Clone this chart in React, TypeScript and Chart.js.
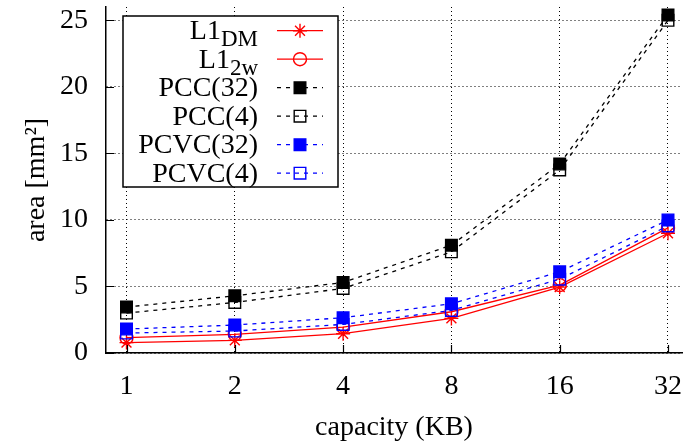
import React, { useEffect, useRef } from 'react';
import { Chart, registerables } from 'chart.js';
import { drawPoint } from 'chart.js/helpers';

Chart.register(...registerables);

const FONT = "'Liberation Serif', 'Times New Roman', serif";
const FS = 28;

const CAPACITY = [1, 2, 4, 8, 16, 32];
const Y_TICKS = [0, 5, 10, 15, 20, 25];

const L1_DM = [0.78, 0.95, 1.45, 2.6, 4.95, 9.0];
const L1_2W = [1.15, 1.4, 1.95, 3.1, 5.1, 9.4];
const PCC_32 = [3.45, 4.3, 5.3, 8.1, 14.2, 25.4];
const PCC_4 = [3.0, 3.8, 4.85, 7.6, 13.75, 25.0];
const PCVC_32 = [1.8, 2.1, 2.65, 3.7, 6.1, 10.0];
const PCVC_4 = [1.5, 1.65, 2.15, 3.2, 5.55, 9.55];

const SERIES = [
  { main: 'L1', sub: 'DM', data: L1_DM, color: '#ff0000', dash: [], point: 'star', radius: 7, fill: 'rgba(0,0,0,0)' },
  { main: 'L1', sub: '2w', data: L1_2W, color: '#ff0000', dash: [], point: 'circle', radius: 6.5, fill: 'rgba(0,0,0,0)' },
  { main: 'PCC(32)', sub: '', data: PCC_32, color: '#000000', dash: [4, 5], point: 'rect', radius: 8.2, fill: '#000000' },
  { main: 'PCC(4)', sub: '', data: PCC_4, color: '#000000', dash: [4, 5], point: 'rect', radius: 8.2, fill: 'rgba(0,0,0,0)' },
  { main: 'PCVC(32)', sub: '', data: PCVC_32, color: '#0000ff', dash: [4, 5], point: 'rect', radius: 8.2, fill: '#0000ff' },
  { main: 'PCVC(4)', sub: '', data: PCVC_4, color: '#0000ff', dash: [4, 5], point: 'rect', radius: 8.2, fill: 'rgba(0,0,0,0)' },
];

const innerTicksPlugin = {
  id: 'innerTicks',
  afterDatasetsDraw(chart: any) {
    const { ctx, chartArea } = chart;
    const xs = chart.scales.x;
    const ys = chart.scales.y;
    ctx.save();
    ctx.strokeStyle = '#000';
    ctx.lineWidth = 1.2;
    ctx.setLineDash([]);
    ctx.beginPath();
    Y_TICKS.forEach((v) => {
      const py = Math.round(ys.getPixelForValue(v)) + 0.5;
      ctx.moveTo(chartArea.left, py);
      ctx.lineTo(chartArea.left + 8, py);
    });
    CAPACITY.forEach((v) => {
      const px = Math.round(xs.getPixelForValue(v)) + 0.5;
      ctx.moveTo(px, chartArea.bottom);
      ctx.lineTo(px, chartArea.bottom - 8);
    });
    ctx.stroke();
    ctx.restore();
  },
};

const legendPlugin = {
  id: 'gnuLegend',
  afterDraw(chart: any) {
    const ctx = chart.ctx;
    ctx.save();
    const L = 123, T = 16, R = 338, B = 187;
    ctx.fillStyle = '#ffffff';
    ctx.fillRect(L, T, R - L, B - T);
    ctx.strokeStyle = '#000';
    ctx.lineWidth = 1.5;
    ctx.setLineDash([]);
    ctx.strokeRect(L, T, R - L, B - T);
    chart.data.datasets.forEach((ds: any, i: number) => {
      const s = SERIES[i];
      const y = 30.7 + 28.5 * i;
      const mainFont = `${FS}px ${FONT}`;
      const subFont = `23px ${FONT}`;
      ctx.textAlign = 'left';
      ctx.textBaseline = 'alphabetic';
      ctx.fillStyle = '#000';
      ctx.font = subFont;
      const sw = s.sub ? ctx.measureText(s.sub).width : 0;
      ctx.font = mainFont;
      const mw = ctx.measureText(s.main).width;
      const x0 = 258 - sw - mw;
      ctx.fillText(s.main, x0, y + 8.5);
      if (s.sub) {
        ctx.font = subFont;
        ctx.fillText(s.sub, x0 + mw, y + 15.5);
      }
      ctx.strokeStyle = ds.borderColor;
      ctx.lineWidth = ds.borderWidth;
      ctx.setLineDash(ds.borderDash || []);
      ctx.beginPath();
      ctx.moveTo(277, y);
      ctx.lineTo(323, y);
      ctx.stroke();
      ctx.setLineDash([]);
      ctx.fillStyle = ds.pointBackgroundColor;
      ctx.strokeStyle = ds.pointBorderColor;
      ctx.lineWidth = ds.pointBorderWidth;
      drawPoint(ctx, { pointStyle: ds.pointStyle, radius: ds.pointRadius, rotation: 0, borderWidth: ds.pointBorderWidth } as any, 300, y);
    });
    ctx.restore();
  },
};

export default function App() {
  const ref = useRef<HTMLCanvasElement | null>(null);

  useEffect(() => {
    if (!ref.current) return;
    const chart = new Chart(ref.current, {
      type: 'line',
      data: {
        datasets: SERIES.map((s, i) => ({
          label: s.main + s.sub,
          data: CAPACITY.map((c, j) => ({ x: c, y: s.data[j] })),
          borderColor: s.color,
          borderWidth: 1.3,
          borderDash: s.dash,
          pointStyle: s.point as any,
          pointRadius: s.radius,
          pointBorderWidth: 1.4,
          pointBorderColor: s.color,
          pointBackgroundColor: s.fill,
          fill: false,
          tension: 0,
          order: SERIES.length - i,
        })),
      },
      options: {
        animation: false,
        responsive: false,
        devicePixelRatio: 1,
        layout: { autoPadding: false, padding: { top: 7, right: 1, left: 0, bottom: 0 } },
        plugins: { legend: { display: false }, tooltip: { enabled: false } },
        scales: {
          x: {
            type: 'logarithmic',
            min: 0.877,
            max: 35,
            afterBuildTicks: (s: any) => {
              s.ticks = CAPACITY.map((v) => ({ value: v }));
            },
            afterFit: (s: any) => {
              s.height = 91;
              s.paddingLeft = 0;
              s.paddingRight = 0;
            },
            ticks: {
              color: '#000',
              font: { family: FONT, size: FS },
              padding: 17,
              maxRotation: 0,
              autoSkip: false,
              callback: (v: any) => String(v),
            },
            grid: { color: '#000', lineWidth: 1, drawTicks: false },
            border: { display: true, color: '#000', width: 1.5, dash: [1, 3] },
            title: {
              display: true,
              text: 'capacity (KB)',
              color: '#000',
              font: { family: FONT, size: FS },
              padding: 0,
            },
          },
          y: {
            type: 'linear',
            min: 0,
            max: 26,
            afterBuildTicks: (s: any) => {
              s.ticks = Y_TICKS.map((v) => ({ value: v }));
            },
            afterFit: (s: any) => {
              s.width = 106;
              s.paddingTop = 0;
              s.paddingBottom = 0;
            },
            ticks: {
              color: '#000',
              font: { family: FONT, size: FS },
              padding: 18,
              callback: (v: any) => String(v),
            },
            grid: { color: '#000', lineWidth: 1, drawTicks: false },
            border: { display: true, color: '#000', width: 1.5, dash: [1, 3] },
            title: {
              display: true,
              text: 'area [mm²]',
              color: '#000',
              font: { family: FONT, size: FS },
              padding: { top: 20, bottom: 0 },
            },
          },
        },
      },
      plugins: [innerTicksPlugin, legendPlugin],
    });
    return () => chart.destroy();
  }, []);

  return (
    <div style={{ position: 'absolute', left: 0, top: 0, width: 683, height: 444, background: '#fff' }}>
      <canvas ref={ref} width={683} height={444} style={{ display: 'block' }} />
    </div>
  );
}
